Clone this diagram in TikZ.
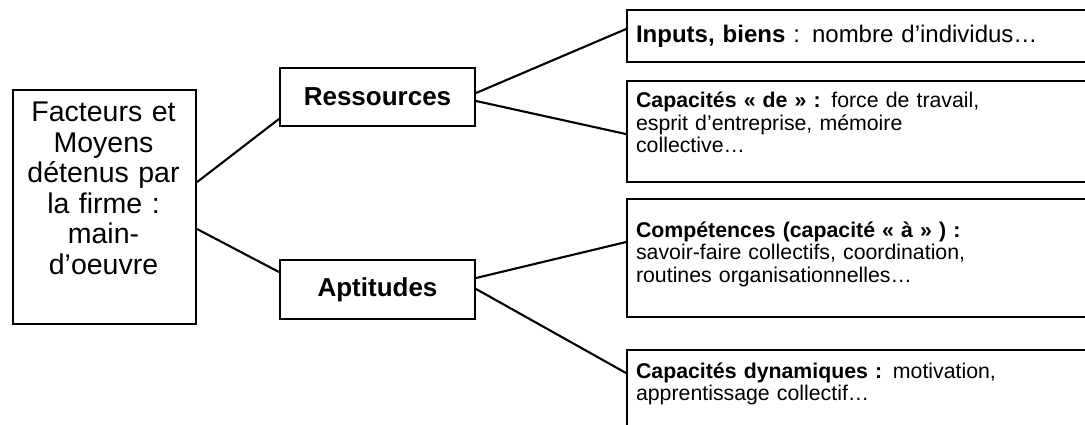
\documentclass[tikz,border=0pt]{standalone}
\usepackage{fontspec}
\setmainfont{Liberation Sans}
\begin{document}
\begin{tikzpicture}[x=1pt,y=-1pt,line width=2.1pt,
  box/.style={draw,rectangle,inner sep=0pt},
  mid/.style={box,minimum width=195pt,font=\bfseries\fontsize{26}{30}\selectfont},
  wide/.style={box,anchor=north west,minimum width=480pt},
  ltext/.style={inner sep=0pt,text width=183pt,align=center,anchor=base,
    font=\fontsize{28.5}{30.5}\selectfont},
  rtext/.style={inner sep=0pt,text width=440pt,align=left,anchor=base west,
    font=\fontsize{21.3}{22.5}\selectfont},
  link/.style={draw}]
\useasboundingbox (0,0) rectangle (1085,425);
\clip (0,0) rectangle (1085,425);

% root box
\node[box,anchor=north west,minimum width=183pt,minimum height=234pt] (firm) at (12,89) {};
\node[ltext] (firmtext) at (103.5,122) {Facteurs et\\Moyens\\détenus par\\la firme :\\main-\\d’oeuvre};

% middle level
\node[mid,minimum height=58pt] (res) at (377.5,97) {Ressources};
\node[mid,minimum height=59pt] (apt) at (377.5,289.5) {Aptitudes};

% right column (runs past the right edge)
\node[wide,minimum height=52pt] (r1) at (626,9) {};
\node[wide,minimum height=101pt] (r2) at (626,80) {};
\node[wide,minimum height=118pt] (r3) at (626,198) {};
\node[wide,minimum height=100pt] (r4) at (626,349) {};

\node[rtext,font=\fontsize{24}{26}\selectfont] (t1) at (635,43) {\textbf{Inputs, biens} : nombre d’individus…};
\node[rtext] (t2) at (635,108) {\textbf{Capacités « de » :} force de travail,\\esprit d’entreprise, mémoire\\collective…};
\node[rtext] (t3) at (635,237) {\textbf{Compétences (capacité « à » ) :}\\savoir-faire collectifs, coordination,\\routines organisationnelles…};
\node[rtext] (t4) at (635,378) {\textbf{Capacités dynamiques :} motivation,\\apprentissage collectif…};

% connectors
\draw[link] ([yshift=25pt]firm.east) -- ([yshift=-22pt]res.west);
\draw[link] ([yshift=-22pt]firm.east) -- ([yshift=17.5pt]apt.west);
\draw[link] ([yshift=4pt]res.east) -- ([yshift=7pt]r1.west);
\draw[link] ([yshift=-4pt]res.east) -- ([yshift=-2.5pt]r2.west);
\draw[link] ([yshift=11.5pt]apt.east) -- ([yshift=16pt]r3.west);
\draw[link] ([yshift=0.5pt]apt.east) -- ([yshift=-24pt]r4.north west);
\end{tikzpicture}
\end{document}
